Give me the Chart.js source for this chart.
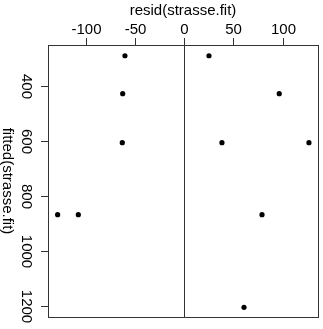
<!DOCTYPE html>
<html>
<head>
<meta charset="utf-8">
<script src="https://cdn.jsdelivr.net/npm/chart.js@4/dist/chart.umd.min.js"></script>
<style>
  html, body { margin: 0; padding: 0; background: #fff; }
  canvas { display: block; }
</style>
</head>
<body>
<canvas id="chart" width="323" height="329"></canvas>
<script>
// residuals vs fitted values
const residVals = [-60.3, 25.1, -62.6, 96.5, -63, 38.3, 126.7, -128.7, -107.7, 79, 60.7];
const fittedVals = [290, 290, 428, 428, 606, 606, 606, 868, 868, 868, 1205];
const xTicks = [-100, -50, 0, 50, 100];
const yTicks = [400, 600, 800, 1000, 1200];
const xTitle = 'resid(strasse.fit)';
const yTitle = 'fitted(strasse.fit)';

const points = residVals.map((r, i) => ({ x: r, y: fittedVals[i] }));
const FONT = '15px "Liberation Sans", Arial, sans-serif';
const INK = '#333';

// draws the R-like frame, zero line, ticks and labels from the scales
const axesPlugin = {
    id: 'rAxes',
    beforeDatasetsDraw(chart) {
        const { ctx, chartArea: a, scales: { x } } = chart;
        const x0 = Math.round(x.getPixelForValue(0)) + 0.5;
        ctx.save();
        ctx.strokeStyle = INK;
        ctx.lineWidth = 1;
        ctx.beginPath();
        ctx.moveTo(x0, a.top);
        ctx.lineTo(x0, a.bottom);
        ctx.stroke();
        ctx.restore();
    },
    afterDraw(chart) {
        const { ctx, chartArea: a, scales: { x, y } } = chart;
        ctx.save();
        ctx.strokeStyle = INK;
        ctx.lineWidth = 1;
        ctx.strokeRect(Math.round(a.left) + 0.5, Math.round(a.top) + 0.5,
            Math.round(a.right - a.left), Math.round(a.bottom - a.top));

        ctx.fillStyle = '#000';
        ctx.font = FONT;
        // top axis
        ctx.textAlign = 'center';
        ctx.textBaseline = 'alphabetic';
        xTicks.forEach(v => {
            const px = Math.round(x.getPixelForValue(v)) + 0.5;
            ctx.beginPath();
            ctx.moveTo(px, a.top);
            ctx.lineTo(px, a.top - 7);
            ctx.stroke();
            ctx.fillText(String(v), px, 33.5);
        });
        ctx.fillText(xTitle, (a.left + a.right) / 2, 14.5);

        // left axis, labels turned clockwise
        yTicks.forEach(v => {
            const py = Math.round(y.getPixelForValue(v)) + 0.5;
            ctx.beginPath();
            ctx.moveTo(a.left, py);
            ctx.lineTo(a.left - 7, py);
            ctx.stroke();
            ctx.save();
            ctx.translate(21.7, py);
            ctx.rotate(Math.PI / 2);
            ctx.fillText(String(v), 0, 0);
            ctx.restore();
        });
        ctx.save();
        ctx.translate(3, (a.top + a.bottom) / 2);
        ctx.rotate(Math.PI / 2);
        ctx.fillText(yTitle, 0, 0);
        ctx.restore();
        ctx.restore();
    }
};

new Chart(document.getElementById('chart'), {
    type: 'scatter',
    data: {
        datasets: [{
            data: points,
            backgroundColor: '#000',
            borderColor: '#000',
            borderWidth: 0,
            pointRadius: 2.6
        }]
    },
    options: {
        responsive: false,
        animation: false,
        devicePixelRatio: 1,
        layout: { padding: { left: 48, right: 5, top: 45, bottom: 12 } },
        plugins: { legend: { display: false }, tooltip: { enabled: false } },
        scales: {
            x: { type: 'linear', display: false, min: -138.5, max: 135.9 },
            y: { type: 'linear', display: false, min: 251, max: 1240, reverse: true }
        }
    },
    plugins: [axesPlugin]
});
</script>
</body>
</html>
